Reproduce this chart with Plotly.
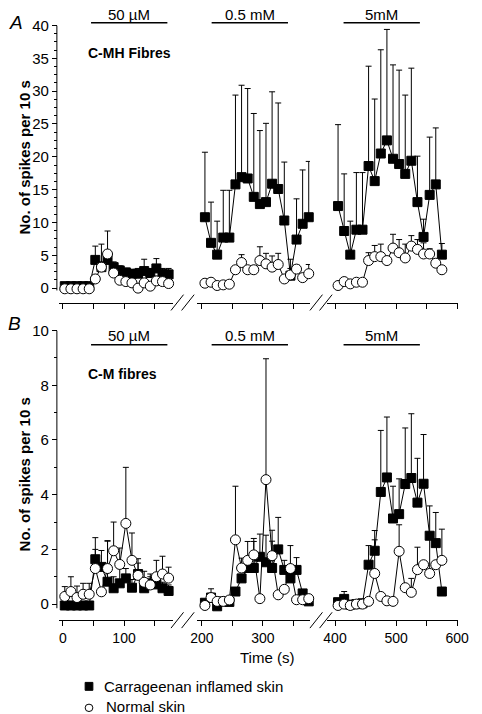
import plotly.graph_objects as go

W, H = 482, 714
FONT = "Liberation Sans, Arial, Helvetica, sans-serif"

# ---------------- data ----------------
# time bins (s) in the three recording segments (10-s bins)
t_seg1 = [3 + 10 * k for k in range(18)]
t_seg2 = [205 + 10 * k for k in range(18)]
t_seg3 = [405 + 10 * k for k in range(18)]

# Panel A: C-MH fibres
a_inf_1 = [0.3, 0.3, 0.3, 0.3, 0.3, 4.3, 3.2, 4.3, 3.2, 2.7, 2.4, 2.2, 2.2, 2.6, 2.3, 3.0, 2.2, 2.1]
a_inf_1_top = [0.3, 0.3, 0.3, 0.3, 0.3, 6.4, 6.7, 8.7, 4.0, 3.4, 3.0, 2.8, 3.0, 4.4, 3.0, 4.5, 3.0, 3.0]
a_nor_1 = [-0.1, -0.1, -0.1, -0.1, -0.1, 1.4, 3.2, 5.2, 2.3, 1.2, 1.0, 0.8, 0.0, 0.8, 0.3, 1.1, 1.0, 0.7]
a_nor_1_top = [-0.1, -0.1, -0.1, -0.1, -0.1, 2.0, 4.0, 5.6, 2.8, 1.6, 1.4, 1.2, 0.5, 1.3, 0.8, 1.8, 1.5, 1.2]

a_inf_2 = [10.8, 6.9, 5.1, 7.7, 7.7, 15.8, 16.9, 16.7, 13.9, 12.8, 13.1, 15.9, 15.1, 10.3, 1.9, 7.4, 9.8, 10.8]
a_inf_2_top = [20.7, 13.1, 10.2, 14.9, 14.9, 29.4, 30.9, 30.4, 26.6, 24.0, 25.1, 29.9, 28.2, 19.2, 3.0, 13.6, 18.0, 19.3]
a_nor_2 = [0.75, 0.9, 0.4, 0.5, 0.6, 2.8, 3.9, 2.8, 2.8, 4.2, 3.7, 3.2, 3.6, 1.4, 2.0, 2.9, 1.6, 2.2]
a_nor_2_top = [0.75, 0.9, 0.4, 0.5, 0.6, 3.3, 5.1, 3.3, 3.3, 6.3, 5.3, 4.9, 5.3, 1.9, 4.4, 3.5, 2.2, 3.6]

a_inf_3 = [12.5, 8.7, 5.1, 8.9, 8.9, 18.6, 16.3, 20.5, 22.5, 19.7, 18.9, 17.4, 19.4, 13.1, 7.8, 14.2, 15.8, 5.1]
a_inf_3_top = [24.9, 17.4, 10.2, 17.6, 17.6, 33.8, 28.8, 36.3, 39.4, 34.0, 33.2, 29.4, 33.5, 20.1, 10.5, 23.0, 24.4, 6.8]
a_nor_3 = [0.4, 1.0, 0.65, 0.9, 0.9, 4.2, 4.8, 4.8, 4.2, 6.1, 5.4, 4.6, 6.4, 5.9, 5.2, 5.2, 3.8, 2.8]
a_nor_3_top = [0.4, 1.0, 0.65, 0.9, 0.9, 5.4, 6.5, 6.7, 4.2, 8.2, 7.4, 6.7, 8.0, 7.4, 6.9, 6.0, 4.4, 2.8]

# Panel B: C-M fibres
b_inf_1 = [-0.05, -0.05, -0.05, -0.05, -0.05, 1.64, 1.36, 0.82, 0.58, 0.76, 0.94, 0.6, 1.1, 0.58, 0.76, 0.72, 0.58, 0.48]
b_inf_1_top = [-0.05, -0.05, -0.05, -0.05, -0.05, 2.43, 1.96, 2.32, 1.0, 1.3, 1.3, 0.9, 1.66, 0.8, 1.1, 1.0, 0.8, 0.7]
b_nor_1 = [0.28, 0.46, 0.24, 0.36, 0.36, 1.3, 0.45, 1.3, 1.95, 1.45, 2.95, 1.6, 1.05, 0.8, 0.7, 1.0, 1.1, 0.95]
b_nor_1_top = [0.64, 1.0, 0.66, 0.76, 0.76, 2.0, 0.6, 2.3, 3.0, 2.05, 5.0, 2.6, 1.5, 1.2, 1.0, 1.6, 1.75, 1.35]

b_inf_2 = [0.05, 0.24, -0.08, 0.1, 0.08, 0.46, 0.94, 1.32, 1.32, 1.73, 1.53, 1.32, 2.0, 1.25, 0.94, 1.25, 0.39, 0.1]
b_inf_2_top = [0.05, 0.56, -0.08, 0.1, 0.08, 0.46, 0.94, 2.29, 2.29, 2.56, 2.52, 2.7, 3.17, 1.6, 2.14, 1.7, 0.39, 0.1]
b_nor_2 = [-0.05, 0.24, 0.1, 0.1, 0.15, 2.35, 1.32, 1.6, 1.8, 0.2, 4.55, 1.77, 0.34, 0.54, 1.3, 0.16, 0.16, 0.2]
b_nor_2_top = [-0.05, 0.24, 0.1, 0.1, 0.15, 4.31, 1.68, 1.6, 2.4, 0.2, 8.97, 2.3, 0.34, 0.54, 1.3, 0.16, 0.16, 0.2]

b_inf_3 = [0.07, 0.19, -0.02, 0.0, 0.03, 1.44, 1.95, 4.1, 4.63, 3.13, 3.29, 4.39, 4.61, 3.71, 4.4, 2.5, 2.23, 0.46]
b_inf_3_top = [0.07, 0.46, -0.02, 0.0, 0.03, 2.14, 2.69, 6.35, 6.84, 4.31, 4.58, 6.44, 6.96, 5.33, 6.2, 3.59, 3.35, 0.46]
b_nor_3 = [-0.05, 0.0, -0.05, 0.0, 0.0, 0.1, 1.12, 0.28, 0.12, 0.1, 1.93, 0.6, 0.43, 1.26, 1.44, 1.12, 1.44, 1.6]
b_nor_3_top = [-0.05, 0.0, -0.05, 0.0, 0.0, 0.1, 2.35, 0.28, 0.12, 0.1, 2.9, 0.6, 0.94, 2.08, 1.44, 2.62, 1.44, 2.74]

# drug applications (s) and labels, one per segment
drug_start = [46, 216, 414]
drug_end = [171, 341, 539]
drug_labels = ["50 µM", "0.5 mM", "5mM"]

x_tickvals = [[0, 50, 100, 150], [200, 250, 300, 350], [400, 450, 500, 550, 600]]
x_ticktext = [["0", "", "100", ""], ["200", "", "300", ""], ["400", "", "500", "", "600"]]
a_yticks = [0, 5, 10, 15, 20, 25, 30, 35, 40]
b_yticks = [0, 2, 4, 6, 8, 10]

legend_labels = ["Carrageenan inflamed skin", "Normal skin"]

# ---------------- layout geometry (pixels) ----------------
def px(x):
    return x / W

def py(y):
    return 1 - y / H

PXS = 0.633  # pixels per second
seg_px = [(54, 172), (197, 314), (332, 468)]  # axis line extents
seg_ref = [(58, 0), (202, 200), (340, 400)]  # pixel of a reference time


def seg_range(i):
    (p0, p1), (pr, tr) = seg_px[i], seg_ref[i]
    return [tr + (p0 - pr) / PXS, tr + (p1 - pr) / PXS]


fig = go.Figure()

panels = [
    dict(yname="y",
         inf=[a_inf_1, a_inf_2, a_inf_3], inf_top=[a_inf_1_top, a_inf_2_top, a_inf_3_top],
         nor=[a_nor_1, a_nor_2, a_nor_3], nor_top=[a_nor_1_top, a_nor_2_top, a_nor_3_top]),
    dict(yname="y2",
         inf=[b_inf_1, b_inf_2, b_inf_3], inf_top=[b_inf_1_top, b_inf_2_top, b_inf_3_top],
         nor=[b_nor_1, b_nor_2, b_nor_3], nor_top=[b_nor_1_top, b_nor_2_top, b_nor_3_top]),
]
times = [t_seg1, t_seg2, t_seg3]

for p, pan in enumerate(panels):
    for s in range(3):
        xa = "x" if (p * 3 + s) == 0 else f"x{p * 3 + s + 1}"
        for vals, tops, sym, fill in [
            (pan["inf"][s], pan["inf_top"][s], "square", "black"),
            (pan["nor"][s], pan["nor_top"][s], "circle", "white"),
        ]:
            err = [max(t - v, 0) for v, t in zip(vals, tops)]
            fig.add_trace(go.Scatter(
                x=times[s], y=vals, xaxis=xa, yaxis=pan["yname"],
                mode="lines+markers",
                line=dict(color="black", width=1),
                marker=dict(symbol=sym, size=9 if sym == "square" else 10, color=fill,
                            line=dict(color="black", width=1)),
                error_y=dict(type="data", symmetric=False, array=err,
                             arrayminus=[0] * len(err), color="black",
                             thickness=1, width=3),
                cliponaxis=False, showlegend=False, hoverinfo="skip",
            ))

# axes
A_Y = (16.7, 297.3)   # pixel top (40) / bottom (x axis)
B_Y = (325.7, 619.0)  # pixel top (10) / bottom (x axis)
layout = dict(
    width=W, height=H, margin=dict(l=0, r=0, t=0, b=0),
    paper_bgcolor="white", plot_bgcolor="white",
    font=dict(family=FONT, color="black", size=14),
    showlegend=False,
)
axis_common = dict(showgrid=False, zeroline=False, showline=True, linecolor="black",
                   linewidth=1, ticks="outside", ticklen=5, tickwidth=1, tickcolor="black",
                   tickfont=dict(family=FONT, size=14, color="black"))
for p in range(2):
    for s in range(3):
        n = p * 3 + s + 1
        key = "xaxis" if n == 1 else f"xaxis{n}"
        layout[key] = dict(
            axis_common,
            domain=[px(seg_px[s][0]), px(seg_px[s][1])],
            range=seg_range(s),
            anchor="y" if p == 0 else "y2",
            tickmode="array", tickvals=x_tickvals[s], ticktext=x_ticktext[s],
            showticklabels=(p == 1),
        )

yfont = dict(family=FONT, size=15, color="black")
layout["yaxis"] = dict(
    axis_common, showline=False, tickfont=yfont,
    domain=[py(A_Y[1]), py(A_Y[0])],
    range=[(282.7 - A_Y[1]) / 6.65, 40],
    anchor="free", position=px(51.7),
    tickmode="array", tickvals=a_yticks,
    minor=dict(tickvals=[v + 1.25 * k for v in a_yticks[:-1] for k in (1, 2, 3)],
               ticks="outside", ticklen=3, tickcolor="black"),
)
layout["yaxis2"] = dict(
    axis_common, showline=False, tickfont=yfont,
    domain=[py(B_Y[1]), py(B_Y[0])],
    range=[(602.7 - B_Y[1]) / 27.7, 10],
    anchor="free", position=px(51.7),
    tickmode="array", tickvals=b_yticks,
    minor=dict(tickvals=[1, 3, 5, 7, 9], ticks="outside", ticklen=3, tickcolor="black"),
)
fig.update_layout(**layout)

shapes = []
annotations = []
# y axis lines (stop just below zero)
shapes.append(dict(type="line", xref="paper", yref="y", x0=px(51.7), x1=px(51.7),
                   y0=-0.35, y1=40, line=dict(color="black", width=1)))
shapes.append(dict(type="line", xref="paper", yref="y2", x0=px(51.7), x1=px(51.7),
                   y0=-0.15, y1=10, line=dict(color="black", width=1)))

# axis break marks
for ybase in (297.3, 619.0):
    for xb in (170, 181, 314, 324):
        shapes.append(dict(type="line", xref="paper", yref="paper",
                           x0=px(xb), y0=py(ybase + 8), x1=px(xb + 13), y1=py(ybase - 8),
                           line=dict(color="black", width=1)))

# drug application bars
for p, (ybar, ytxt) in enumerate([(14, 6), (340, 331)]):
    for s in range(3):
        n = p * 3 + s + 1
        xr = "x" if n == 1 else f"x{n}"
        shapes.append(dict(type="line", xref=xr, yref="paper",
                           x0=drug_start[s], x1=drug_end[s], y0=py(ybar), y1=py(ybar),
                           line=dict(color="black", width=1.5)))
        annotations.append(dict(xref=xr, yref="paper", x=(drug_start[s] + drug_end[s]) / 2,
                                y=py(ytxt), text=drug_labels[s], showarrow=False,
                                xanchor="center", yanchor="middle",
                                font=dict(family=FONT, size=15)))

# panel letters, fibre labels
annotations += [
    dict(xref="paper", yref="paper", x=px(9), y=py(14), text="<i>A</i>", showarrow=False,
         font=dict(family=FONT, size=19), xanchor="center", yanchor="middle"),
    dict(xref="paper", yref="paper", x=px(8), y=py(319), text="<i>B</i>", showarrow=False,
         font=dict(family=FONT, size=19), xanchor="center", yanchor="middle"),
    dict(xref="paper", yref="paper", x=px(127), y=py(45), text="<b>C-MH Fibres</b>",
         showarrow=False, font=dict(family=FONT, size=14), xanchor="center", yanchor="middle"),
    dict(xref="paper", yref="paper", x=px(120), y=py(370), text="<b>C-M fibres</b>",
         showarrow=False, font=dict(family=FONT, size=14), xanchor="center", yanchor="middle"),
    dict(xref="paper", yref="paper", x=px(18), y=py(150), text="<b>No. of spikes per 10 s</b>",
         showarrow=False, textangle=-90, font=dict(family=FONT, size=15),
         xanchor="center", yanchor="middle"),
    dict(xref="paper", yref="paper", x=px(18), y=py(471), text="<b>No. of spikes per 10 s</b>",
         showarrow=False, textangle=-90, font=dict(family=FONT, size=15),
         xanchor="center", yanchor="middle"),
    dict(xref="paper", yref="paper", x=px(270), y=py(657), text="Time (s)", showarrow=False,
         font=dict(family=FONT, size=15), xanchor="center", yanchor="middle"),
]

# legend (manual)
shapes.append(dict(type="rect", xref="paper", yref="paper",
                   x0=px(81), x1=px(89), y0=py(690), y1=py(682),
                   fillcolor="black", line=dict(color="black", width=1)))
shapes.append(dict(type="circle", xref="paper", yref="paper",
                   x0=px(81), x1=px(89), y0=py(711.5), y1=py(704),
                   fillcolor="white", line=dict(color="black", width=1)))
annotations.append(dict(xref="paper", yref="paper", x=px(98), y=py(686),
                        text=legend_labels[0], showarrow=False, xanchor="left",
                        yanchor="middle", font=dict(family=FONT, size=15)))
annotations.append(dict(xref="paper", yref="paper", x=px(101), y=py(706),
                        text=legend_labels[1], showarrow=False, xanchor="left",
                        yanchor="middle", font=dict(family=FONT, size=15)))

fig.update_layout(shapes=shapes, annotations=annotations)
fig.write_html(
    "out.html",
    config={"displayModeBar": False, "staticPlot": True},
    post_script=(
        "document.documentElement.style.margin='0';"
        "document.body.style.margin='0';document.body.style.overflow='hidden';"
        "var d=document.getElementById('{plot_id}');"
        "d.style.position='fixed';d.style.left='0px';d.style.top='0px';"
    ),
)
